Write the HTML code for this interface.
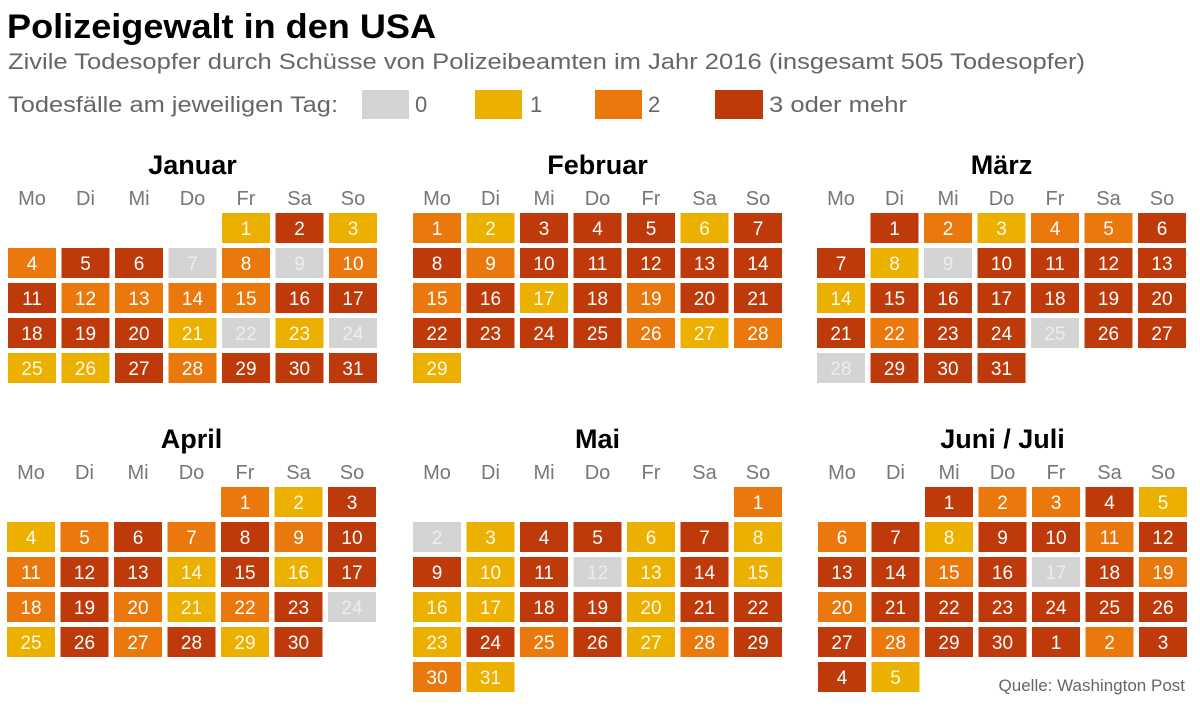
<!DOCTYPE html>
<html><head><meta charset="utf-8">
<style>
html,body{margin:0;padding:0;background:#fff;}
svg{display:block;font-family:"Liberation Sans",Arial,sans-serif;}
</style></head>
<body>
<svg id="chart" width="1200" height="708" viewBox="0 0 1200 708" xmlns="http://www.w3.org/2000/svg">
  <text x="7" y="38" font-size="34" font-weight="bold" fill="#000" textLength="429" lengthAdjust="spacingAndGlyphs">Polizeigewalt in den USA</text>
  <text x="8" y="69" font-size="22" fill="#666" textLength="1077" lengthAdjust="spacingAndGlyphs">Zivile Todesopfer durch Schüsse von Polizeibeamten im Jahr 2016 (insgesamt 505 Todesopfer)</text>
  <g>
    <text x="8" y="112" font-size="22" fill="#666" textLength="330" lengthAdjust="spacingAndGlyphs">Todesfälle am jeweiligen Tag:</text>
    <rect x="362" y="90" width="47" height="29" fill="#d4d4d4"/>
    <text x="415" y="112" font-size="22" fill="#666">0</text>
    <rect x="475" y="90" width="47" height="29" fill="#ecb000"/>
    <text x="530" y="112" font-size="22" fill="#666">1</text>
    <rect x="595" y="90" width="47" height="29" fill="#eb780c"/>
    <text x="648" y="112" font-size="22" fill="#666">2</text>
    <rect x="715" y="90" width="48" height="29" fill="#bf3a0b"/>
    <text x="769" y="112" font-size="22" fill="#666" textLength="138" lengthAdjust="spacingAndGlyphs">3 oder mehr</text>
  </g>
  <g id="cal"></g>
  <text x="1185" y="691" font-size="17" fill="#666" text-anchor="end">Quelle: Washington Post</text>
</svg>
<script>
const monthNames = ["Januar","Februar","März","April","Mai","Juni / Juli"];
const monthStartCol = [4,0,1,4,6,2];
const janLevels = [1,3,1,2,3,3,0,2,0,2,3,2,2,2,2,3,3,3,3,3,1,0,1,0,1,1,3,2,3,3,3];
const febLevels = [2,1,3,3,3,1,3,3,2,3,3,3,3,3,2,3,1,3,2,3,3,3,3,3,3,2,1,2,1];
const marLevels = [3,2,1,2,2,3,3,1,0,3,3,3,3,1,3,3,3,3,3,3,3,2,3,3,0,3,3,0,3,3,3];
const aprLevels = [2,1,3,1,2,3,2,3,2,3,2,3,3,1,3,1,3,2,3,2,1,2,3,0,1,3,2,3,1,3];
const mayLevels = [2,0,1,3,3,1,3,1,3,1,3,0,1,3,1,1,1,3,3,1,3,3,1,3,2,3,1,2,3,2,1];
const junLevels = [3,2,2,3,1,2,3,1,3,3,2,3,3,3,2,3,0,3,2,2,3,3,3,3,3,3,3,2,3,3];
const julLevels = [3,2,3,3,1];
const weekdays = ["Mo","Di","Mi","Do","Fr","Sa","So"];

const colors = ["#d4d4d4","#ecb000","#eb780c","#bf3a0b"];
const textColors = ["#ededed","#fff8e6","#fff","#fff"];
const NS = "http://www.w3.org/2000/svg";
const cal = document.getElementById("cal");
const blockX = [8,413,817,7,413,818];
const blockY = [213,213,213,487,487,487];
const colStep = 53.5, rowStep = 35, cw = 48, ch = 30;

function colX(b,c){return blockX[b]+c*colStep;}
function rowY(b,r){return blockY[b]+r*rowStep;}
function mk(tag,attrs){const e=document.createElementNS(NS,tag);for(const k in attrs)e.setAttribute(k,attrs[k]);return e;}

const monthDays = [janLevels,febLevels,marLevels,aprLevels,mayLevels,junLevels];
monthDays.forEach((levels,b)=>{
  const g = mk("g",{});
  
  
  cal.appendChild(g);
  const cx = blockX[b] + (6*colStep+cw)/2;
  const t = mk("text",{x:cx,y:blockY[b]-39,"font-size":27,"font-weight":"bold","text-anchor":"middle",fill:"#000"});
  t.textContent = monthNames[b];
  
  
  g.appendChild(t);
  weekdays.forEach((w,c)=>{
    const wt = mk("text",{x:colX(b,c)+cw/2,y:blockY[b]-8,"font-size":20,"text-anchor":"middle",fill:"#777"});
    wt.textContent = w;
    
    
    g.appendChild(wt);
  });
  let days = levels.map((l,i)=>({d:i+1,l:l}));
  if(b===5) days = days.concat(julLevels.map((l,i)=>({d:i+1,l:l})));
  days.forEach((o,i)=>{
    const pos = monthStartCol[b]+i;
    const c = pos%7, r = Math.floor(pos/7);
    const x = colX(b,c), y = rowY(b,r);
    const rect = mk("rect",{x:x,y:y,width:cw,height:ch,fill:colors[o.l]});
    
    
    g.appendChild(rect);
    const tx = mk("text",{x:x+cw/2,y:y+22,"font-size":19,"text-anchor":"middle",fill:textColors[o.l]});
    tx.textContent = o.d;
    
    
    g.appendChild(tx);
  });
});
</script>
</body></html>
